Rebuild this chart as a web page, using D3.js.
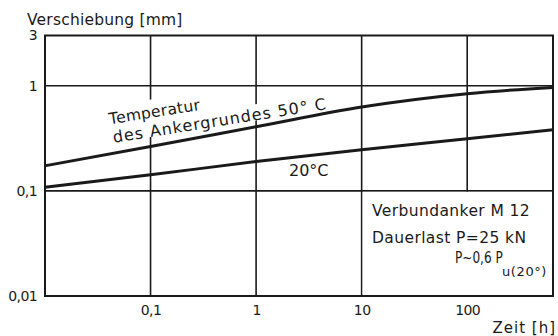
<!DOCTYPE html>
<html lang="de">
<head>
<meta charset="UTF-8">
<title>Verschiebung Verbundanker</title>
<script src="https://cdn.jsdelivr.net/npm/d3@7"></script>
<style>
  body { margin: 0; background: #fff; }
  text { font-family: "DejaVu Sans", sans-serif; fill: #1a1a1a; }
</style>
</head>
<body>
<svg id="chart" width="558" height="336"></svg>
<script>
  // Werte
  var timeH = [0.01, 0.1, 1, 10, 100, 650];
  var disp50 = [0.173, 0.264, 0.407, 0.627, 0.839, 0.963];
  var disp20 = [0.108, 0.142, 0.190, 0.246, 0.313, 0.381];
  var xTicks = [0.1, 1, 10, 100];
  var xTickLabels = ["0,1", "1", "10", "100"];
  var yTicks = [0.01, 0.1, 1, 3];
  var yTickLabels = ["0,01", "0,1", "1", "3"];
  var gridX = [0.1, 1, 10, 100];
  var gridY = [0.1, 1];

  var ink = "#1a1a1a";
  var pLeft = 45, pRight = 553, pTop = 35.5, pBottom = 296;
  var svg = d3.select("#chart");

  var x = d3.scaleLog().domain([0.01, 650]).range([pLeft, pRight]);
  var y = d3.scaleLog().domain([0.01, 3]).range([pBottom, pTop]);

  // Gitter
  svg.append("g").selectAll("line").data(gridX).enter().append("line")
    .attr("x1", function (d) { return x(d); })
    .attr("x2", function (d) { return x(d); })
    .attr("y1", pTop).attr("y2", pBottom)
    .attr("stroke", ink).attr("stroke-width", 1.6);
  svg.append("g").selectAll("line").data(gridY).enter().append("line")
    .attr("x1", pLeft).attr("x2", pRight)
    .attr("y1", function (d) { return y(d); })
    .attr("y2", function (d) { return y(d); })
    .attr("stroke", ink).attr("stroke-width", 1.6);

  // Kurven
  var line = d3.line()
    .x(function (d) { return x(d[0]); })
    .y(function (d) { return y(d[1]); })
    .curve(d3.curveMonotoneX);
  [disp50, disp20].forEach(function (s) {
    svg.append("path")
      .datum(timeH.map(function (t, i) { return [t, s[i]]; }))
      .attr("d", line)
      .attr("fill", "none").attr("stroke", ink).attr("stroke-width", 3);
  });

  // Beschriftung der 50°C-Kurve (weiss hinterlegt)
  var lab = svg.append("g").attr("transform", "translate(113,144) rotate(-9)");
  lab.append("rect").attr("x", -3).attr("y", -38).attr("width", 100).attr("height", 22).attr("fill", "#fff");
  lab.append("rect").attr("x", -3).attr("y", -17).attr("width", 222).attr("height", 16).attr("fill", "#fff");
  lab.append("text").attr("x", 0).attr("y", -20).attr("font-size", 15.5).attr("letter-spacing", 0.3).text("Temperatur");
  lab.append("text").attr("x", 1).attr("y", -1).attr("font-size", 16)
    .attr("letter-spacing", 1.0).text("des  Ankergrundes 50° C");

  svg.append("text").attr("x", 289).attr("y", 176).attr("font-size", 16).text("20°C");

  // Kasten unten rechts
  svg.append("rect").attr("x", x(10) + 1).attr("y", y(0.1) + 1)
    .attr("width", pRight - x(10) - 2).attr("height", pBottom - y(0.1) - 2).attr("fill", "#fff");
  var note = svg.append("g").attr("font-size", 15.5);
  note.append("text").attr("x", 372).attr("y", 216).attr("letter-spacing", 0.4).text("Verbundanker  M 12");
  note.append("text").attr("x", 372).attr("y", 243).attr("letter-spacing", 0.4).text("Dauerlast  P=25 kN");
  note.append("g").attr("transform", "translate(455,263) scale(0.78,1)")
    .append("text").attr("x", 0).attr("y", 0).text("P~0,6 P");
  note.append("text").attr("x", 502).attr("y", 276).attr("font-size", 13)
    .attr("letter-spacing", 0.6).text("u(20°)");

  // Rahmen
  svg.append("rect").attr("x", pLeft).attr("y", pTop)
    .attr("width", pRight - pLeft).attr("height", pBottom - pTop)
    .attr("fill", "none").attr("stroke", ink).attr("stroke-width", 2);

  // Achsen
  var xAxis = svg.append("g").attr("transform", "translate(0," + pBottom + ")")
    .call(d3.axisBottom(x).tickValues(xTicks).tickSize(0).tickPadding(9)
      .tickFormat(function (d, i) { return xTickLabels[i]; }));
  var yAxis = svg.append("g").attr("transform", "translate(" + pLeft + ",0)")
    .call(d3.axisLeft(y).tickValues(yTicks).tickSize(0).tickPadding(8)
      .tickFormat(function (d, i) { return yTickLabels[i]; }));
  [xAxis, yAxis].forEach(function (a) {
    a.select(".domain").remove();
    a.selectAll("text").attr("font-family", "DejaVu Sans, sans-serif").attr("font-size", 14)
      .attr("letter-spacing", -0.6).attr("fill", ink);
  });

  svg.append("text").attr("x", 27).attr("y", 25).attr("font-size", 15.5).attr("letter-spacing", 0.2).text("Verschiebung [mm]");
  svg.append("text").attr("x", 556).attr("y", 333).attr("text-anchor", "end").attr("font-size", 15)
    .attr("letter-spacing", 1).text("Zeit [h]");
</script>
</body>
</html>
